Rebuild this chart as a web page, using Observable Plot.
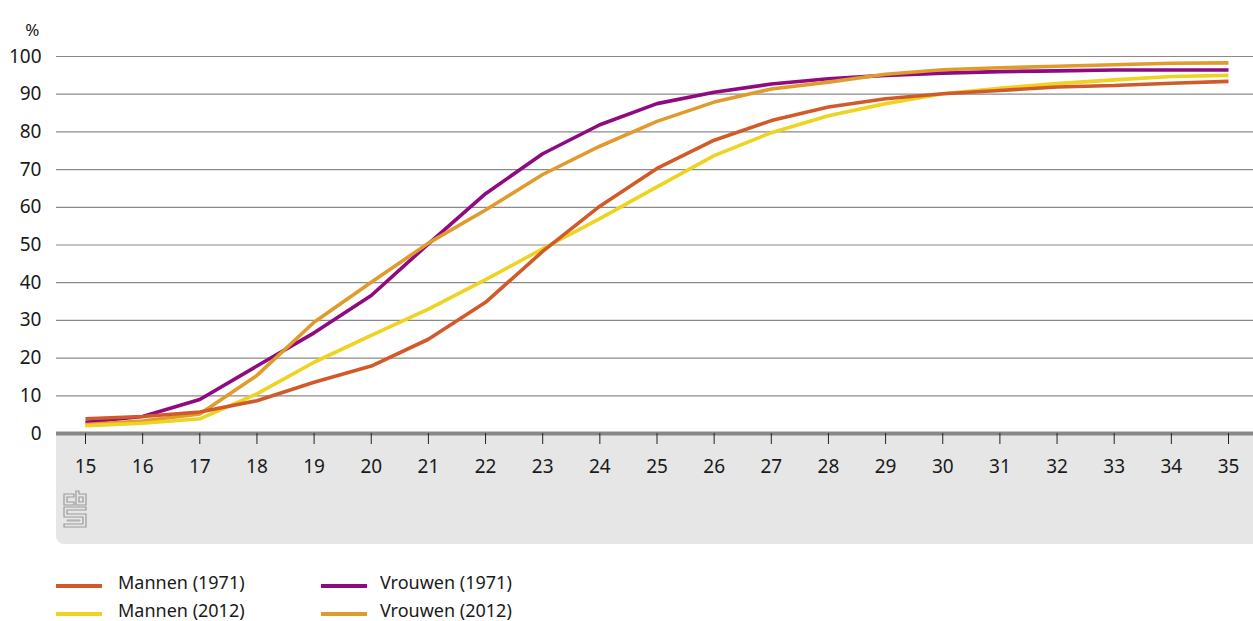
<!DOCTYPE html>
<html>
<head>
<meta charset="utf-8">
<script src="https://cdn.jsdelivr.net/npm/d3@7"></script>
<script src="https://cdn.jsdelivr.net/npm/@observablehq/plot@0.6"></script>
<style>
  html, body { margin: 0; padding: 0; background: #fff; }
  body { width: 1253px; height: 621px; position: relative; overflow: hidden; font-family: "Noto Sans", sans-serif; color: #1a1a1a; }
  #chart { position: absolute; left: 0; top: 0; width: 1253px; height: 545px; }
  #band { position: absolute; left: 56px; top: 433px; width: 1197px; height: 111px; background: #e6e6e6; border-bottom-left-radius: 8px; }
  #logo { position: absolute; left: 7px; top: 57px; }
  #plotwrap { position: absolute; left: 0; top: 0; }
  .leg { position: absolute; font-size: 18px; line-height: 20px; white-space: nowrap; }
  .sw { position: absolute; height: 4px; width: 46px; }
</style>
</head>
<body>
<div id="chart">
  <div id="band">
    <svg id="logo" width="24" height="38" viewBox="-1 -1 24 38" fill="none" stroke="#9a9a9a" stroke-width="1.2">
      <path d="M10,3 H0 V14 H10 V11 H3 V6 H10 Z"/>
      <path d="M12,0 H15 V3 H22 V14 H12 Z"/>
      <path d="M15,6 H19 V11 H15 Z"/>
      <path d="M0,16 H22 V19 H3 V23 H22 V36 H0 V33 H19 V26 H0 Z"/>
      <path d="M3,29 H16 V30 H3 Z" stroke-width="0.8"/>
    </svg>
  </div>
  <div id="plotwrap"></div>
</div>
<div id="legend"></div>
<script>
// ---- data ----
const ages = [15,16,17,18,19,20,21,22,23,24,25,26,27,28,29,30,31,32,33,34,35];
const mannen1971  = [3.9,4.5,5.7,8.7,13.6,17.9,25.0,34.8,48.3,60.3,70.3,77.8,83.0,86.6,88.8,90.1,91.0,91.9,92.3,92.9,93.4];
const vrouwen1971 = [3.0,4.5,9.0,17.9,26.7,36.6,50.3,63.6,74.2,81.9,87.5,90.5,92.7,94.1,95.0,95.6,96.0,96.2,96.4,96.4,96.4];
const mannen2012  = [2.1,2.7,3.9,10.5,18.9,26.0,33.0,40.8,49.0,57.0,65.4,73.7,79.8,84.3,87.5,90.1,91.6,92.8,93.8,94.7,95.0];
const vrouwen2012 = [2.4,3.3,5.2,15.4,29.5,40.1,50.5,59.3,68.7,76.2,82.8,87.9,91.4,93.2,95.3,96.5,97.0,97.4,97.8,98.2,98.3];
const seriesNames = ["Mannen (1971)", "Mannen (2012)", "Vrouwen (1971)", "Vrouwen (2012)"];
const seriesColors = ["#d25a2a", "#eed320", "#8f0a80", "#e09b2c"];
const yTicks = [0,10,20,30,40,50,60,70,80,90,100];
const xTicks = ages;
const yUnit = "%";

const seriesValues = [mannen1971, mannen2012, vrouwen1971, vrouwen2012];
// draw order: purple, orange, yellow, red on top
const drawOrder = [2, 3, 1, 0];
const rows = [];
for (const s of drawOrder) {
  ages.forEach((a, i) => rows.push({age: a, value: seriesValues[s][i], series: seriesNames[s]}));
}

const pxPerYear = 57.15;
const plot = Plot.plot({
  width: 1253,
  height: 545,
  marginLeft: 56,
  marginRight: 0,
  marginTop: 56,
  marginBottom: 112,
  style: {background: "transparent", fontFamily: "Noto Sans, sans-serif", fontSize: "19px", color: "#1a1a1a", overflow: "visible"},
  x: {domain: [15 - 29 / pxPerYear, 35 + 25 / pxPerYear]},
  y: {domain: [0, 100]},
  color: {domain: seriesNames, range: seriesColors},
  marks: [
    Plot.gridY(yTicks, {stroke: "#8a8a8a", strokeOpacity: 1, strokeWidth: 1.2}),
    Plot.axisY(yTicks, {tickSize: 0, tickPadding: 15, label: null, fontSize: 19}),
    Plot.text([yUnit], {frameAnchor: "top-left", dx: -17, dy: -33, textAnchor: "end", fontSize: 17}),
    Plot.line(rows, {x: "age", y: "value", z: "series", stroke: "series", strokeWidth: 3.6, strokeLinejoin: "miter", strokeLinecap: "butt"}),
    Plot.ruleY([0], {stroke: "#888", strokeWidth: 4}),
    Plot.axisX(xTicks, {tickSize: 11, tickPadding: 15, label: null, stroke: "#222", fontSize: 19, tickFormat: d => String(d)})
  ]
});
document.getElementById("plotwrap").appendChild(plot);

// ---- legend ----
const legend = document.getElementById("legend");
const legPos = [
  {sx: 56, tx: 118, y: 572},
  {sx: 56, tx: 118, y: 600},
  {sx: 321, tx: 380, y: 572},
  {sx: 321, tx: 380, y: 600}
];
seriesNames.forEach((name, i) => {
  const p = legPos[i];
  const sw = document.createElement("div");
  sw.className = "sw";
  sw.style.left = p.sx + "px";
  sw.style.top = (p.y + 12) + "px";
  sw.style.background = seriesColors[i];
  legend.appendChild(sw);
  const t = document.createElement("div");
  t.className = "leg";
  t.style.left = p.tx + "px";
  t.style.top = p.y + "px";
  t.textContent = name;
  legend.appendChild(t);
});
</script>
</body>
</html>
